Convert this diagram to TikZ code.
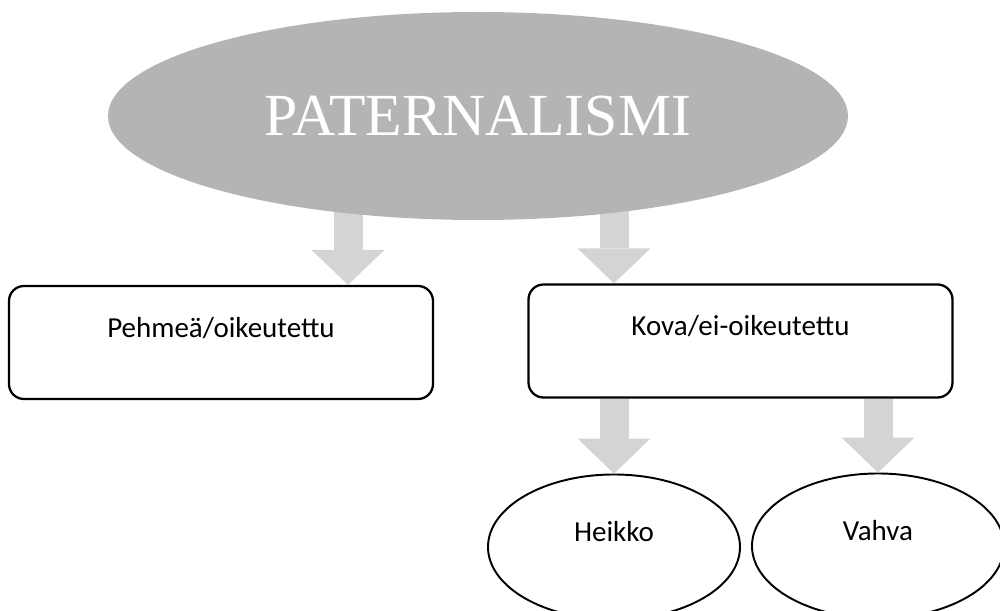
\documentclass[tikz,border=0pt]{standalone}
\usepackage{fontspec}
\setmainfont{Carlito}
\newfontfamily\titlefont{Liberation Serif}
\usetikzlibrary{arrows.meta}
\usetikzlibrary{shapes.geometric}
\pgfdeclarelayer{background}
\pgfsetlayers{background,main}
\definecolor{ovalgray}{RGB}{180,180,180}
\definecolor{arrowgray}{RGB}{212,212,212}

\begin{document}
\begin{tikzpicture}[
    box/.style={draw,line width=1.3pt,rounded corners=0.3cm,fill=white,
        minimum width=8.48cm,minimum height=2.26cm,inner sep=0pt,
        text height=0.3cm,text depth=0.5cm,font=\fontsize{16.5}{20}\selectfont},
    oval/.style={draw,ellipse,line width=1.1pt,fill=white,
        minimum width=5.04cm,minimum height=2.9cm,inner sep=0pt,
        text height=0.3cm,text depth=0.5cm,font=\fontsize{16.5}{20}\selectfont},
    fat/.style={line width=0.58cm,color=arrowgray,
        -{Triangle[width=1.46cm,length=0.7cm,line width=0pt]}}
]

\useasboundingbox (0,0) rectangle (20,-12.22);
\clip (0,0) rectangle (20,-12.22);

% le grand ovale
\node[ellipse,fill=ovalgray,minimum width=14.8cm,minimum height=4.16cm,
    text=white,font=\titlefont\fontsize{34}{40}\selectfont] (pat) at (9.56,-2.32) {PATERNALISMI};

% les deux boites
\node[box] (pehmea) at (4.42,-6.85) {Pehmeä/oikeutettu};
\node[box] (kova) at (14.81,-6.82) {Kova/ei-oikeutettu};

% les ovales du bas
\node[oval] (heikko) at (12.28,-10.94) {Heikko};
\node[oval] (vahva) at (17.56,-10.92) {Vahva};

\coordinate (p) at (6.96,0);

% fleches
\begin{pgfonlayer}{background}
\draw[fat] (pat.center -| p) -- (pehmea.north -| p);
\draw[fat] (pat.center -| heikko) -- (kova.north -| heikko);
\end{pgfonlayer}
\draw[fat] (kova.south -| heikko) -- (heikko.north);
\draw[fat] (kova.south -| vahva) -- (vahva.north);

\end{tikzpicture}
\end{document}
